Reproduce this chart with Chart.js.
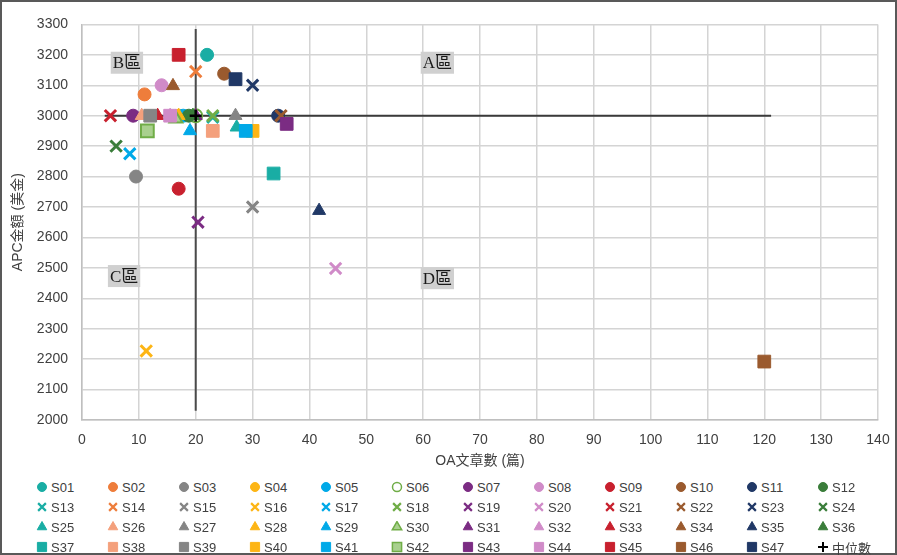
<!DOCTYPE html>
<html>
<head>
<meta charset="utf-8">
<script src="https://cdn.jsdelivr.net/npm/chart.js@4.4.1/dist/chart.umd.min.js"></script>
<style>
  html, body { margin: 0; padding: 0; background: #fff; }
  #frame { position: relative; width: 897px; height: 555px; box-sizing: border-box; border: 2px solid #595959; }
  #chartBox { position: absolute; left: 0; top: 0; width: 893px; height: 472px; }
  #legend {
    position: absolute; left: 34px; top: 475px;
    display: grid; grid-template-columns: repeat(12, 71px); grid-auto-rows: 20px;
    font: 13px "Liberation Sans", "Noto Sans CJK TC", sans-serif; color: #404040;
  }
  #legend .item { display: flex; align-items: center; white-space: nowrap; }
  #legend canvas { width: 12px; height: 12px; margin-right: 3px; }
</style>
</head>
<body>
<div id="frame">
  <div id="chartBox"><canvas id="chart"></canvas></div>
  <div id="legend"></div>
</div>
<script>
// values
const seriesNames = [
  "S01","S02","S03","S04","S05","S06","S07","S08","S09","S10","S11","S12",
  "S13","S14","S15","S16","S17","S18","S19","S20","S21","S22","S23","S24",
  "S25","S26","S27","S28","S29","S30","S31","S32","S33","S34","S35","S36",
  "S37","S38","S39","S40","S41","S42","S43","S44","S45","S46","S47"
];
const oaCounts = [
  22, 11, 9.5, 17, 17.8, 20, 9, 14, 17, 25, 34.5, 18.8,
  23, 20, 30, 11.3, 8.4, 23, 20.4, 44.6, 5, 35, 30, 6,
  27.2, 10.5, 27, 17, 19, 16.5, 20, 15.5, 13.3, 16, 41.7, 19.5,
  33.7, 23, 12, 30, 28.8, 11.5, 36, 15.5, 17, 120, 27
];
const apcAmounts = [
  3200, 3070, 2800, 3000, 3000, 3000, 3000, 3100, 2760, 3138, 3000, 3000,
  2995, 3145, 2700, 2227, 2875, 3000, 2650, 2498, 3000, 3000, 3100, 2900,
  2962, 3000, 3000, 3000, 2950, 2990, 3000, 3000, 3000, 3098, 2688, 3000,
  2810, 2950, 3000, 2950, 2950, 2950, 2973, 3000, 3200, 2192, 3120
];
const medianLabel = "中位數";
const medianPoint = { x: 20, y: 3000 };
const medianVSpan = [2030, 3285];   // vertical median line, APC range
const medianHSpan = [4, 121.2];     // horizontal median line, OA range
const xTicksMin = 0, xTicksMax = 140, xStep = 10;
const yTicksMin = 2000, yTicksMax = 3300, yStep = 100;
const quadrantNames = ["A區", "B區", "C區", "D區"];

// styles
const palette = ["#19ADA4","#EE7D3B","#858585","#FDB515","#00A9E8","#70AD47",
                 "#7B2C83","#D08BC8","#C8202E","#9A5A2E","#203866","#3A7D3A"];
const shapes = ["circle", "crossRot", "triangle", "rect"];
const salmon = "#F4A07C";
const textColor = "#404040";
const gridColor = "#D4D4D4";

function markerFor(i) {
  const shape = shapes[Math.floor(i / 12)];
  let color = palette[i % 12];
  if (shape !== "circle" && shape !== "crossRot" && i % 12 === 1) color = salmon;
  const open = (i % 12 === 5) && shape !== "crossRot";
  const m = { pointStyle: shape, color: color, fill: color, borderWidth: 1 };
  if (shape === "circle") m.radius = 6.5;
  if (shape === "crossRot") { m.radius = 8; m.borderWidth = 3; }
  if (shape === "triangle") m.radius = 7.5;
  if (shape === "rect") m.radius = 9;
  if (open) { m.fill = shape === "circle" ? "#ffffff" : "#A9D08E"; m.borderWidth = 2; }
  return m;
}

function buildDatasets() {
  const sets = [];
  seriesNames.forEach((name, i) => {
    const m = markerFor(i);
    sets.push({
      label: name,
      data: [{ x: oaCounts[i], y: apcAmounts[i] }],
      pointStyle: m.pointStyle,
      pointRadius: m.radius,
      pointBackgroundColor: m.fill,
      pointBorderColor: m.color,
      pointBorderWidth: m.borderWidth,
      order: 100 - i,
      _marker: m
    });
  });
  sets.push({
    label: "_vline",
    data: [{ x: medianPoint.x, y: medianVSpan[0] }, { x: medianPoint.x, y: medianVSpan[1] }],
    showLine: true, borderColor: "#4A4A4A", borderWidth: 2, pointRadius: 0, order: 300
  });
  sets.push({
    label: "_hline",
    data: [{ x: medianHSpan[0], y: medianPoint.y }, { x: medianHSpan[1], y: medianPoint.y }],
    showLine: true, borderColor: "#3A3A3A", borderWidth: 2, pointRadius: 0, order: 300
  });
  sets.push({
    label: medianLabel,
    data: [medianPoint],
    pointStyle: "cross", pointRadius: 6, pointBorderWidth: 2.5,
    pointBorderColor: "#000000", pointBackgroundColor: "#000000",
    order: 0,
    _marker: { pointStyle: "cross", color: "#000000", fill: "#000000", borderWidth: 2, radius: 5 }
  });
  return sets;
}

// gray-boxed quadrant captions anchored to data coordinates
const quadrantPlugin = {
  id: "quadrants",
  afterDraw(chart, args, opts) {
    const { ctx, scales } = chart;
    ctx.save();
    ctx.font = '17px "Liberation Serif", "Noto Sans CJK TC", serif';
    ctx.textBaseline = "middle";
    ctx.textAlign = "center";
    opts.items.forEach(it => {
      const px = scales.x.getPixelForValue(it.x);
      const py = scales.y.getPixelForValue(it.y);
      const w = ctx.measureText(it.text).width + 4;
      ctx.fillStyle = "#D0D0D0";
      ctx.fillRect(px - w / 2, py - 11, w, 22);
      ctx.fillStyle = "#1a1a1a";
      ctx.fillText(it.text, px, py + 1);
    });
    ctx.restore();
  }
};

function buildLegend(datasets) {
  const box = document.getElementById("legend");
  datasets.filter(d => d._marker).forEach(d => {
    const m = d._marker;
    const item = document.createElement("div");
    item.className = "item";
    const c = document.createElement("canvas");
    c.width = 12; c.height = 12;
    const cx = c.getContext("2d");
    cx.fillStyle = m.fill;
    cx.strokeStyle = m.color;
    let r = 4.5, bw = 1;
    if (m.pointStyle === "crossRot") { r = 5.5; bw = 2.2; }
    if (m.pointStyle === "triangle") r = 5.5;
    if (m.pointStyle === "rect") r = 6.5;
    if (m.pointStyle === "cross") { r = 5; bw = 2; }
    if (m.fill !== m.color && m.pointStyle !== "cross") bw = 1.5;
    cx.lineWidth = bw;
    Chart.helpers.drawPoint(cx, { pointStyle: m.pointStyle, radius: r, borderWidth: bw, rotation: 0 }, 6, 6);
    const t = document.createElement("span");
    t.textContent = d.label;
    item.appendChild(c);
    item.appendChild(t);
    box.appendChild(item);
  });
}

function init() {
  const canvas = document.getElementById("chart");
  const datasets = buildDatasets();
  const tickFont = { family: '"Liberation Sans", sans-serif', size: 14 };
  const titleFont = { family: '"Liberation Sans", "Noto Sans CJK TC", sans-serif', size: 14 };

  new Chart(canvas, {
    type: "scatter",
    data: { datasets },
    plugins: [quadrantPlugin],
    options: {
      responsive: true,
      maintainAspectRatio: false,
      animation: false,
      events: [],
      layout: { padding: { top: 18, right: 17, left: 0, bottom: 0 } },
      plugins: {
        legend: { display: false },
        tooltip: { enabled: false },
        quadrants: {
          items: [
            { text: quadrantNames[0], x: 62.5, y: 3174 },
            { text: quadrantNames[1], x: 7.9, y: 3174 },
            { text: quadrantNames[2], x: 7.4, y: 2473 },
            { text: quadrantNames[3], x: 62.5, y: 2466 }
          ]
        }
      },
      scales: {
        x: {
          type: "linear",
          min: xTicksMin, max: xTicksMax,
          ticks: { stepSize: xStep, color: textColor, font: tickFont, padding: 12 },
          grid: { color: gridColor, lineWidth: 1.5, drawTicks: false },
          border: { color: "#BFBFBF", width: 1.5 },
          title: { display: true, text: "OA文章數 (篇)", color: textColor, font: titleFont, padding: { top: 0, bottom: 4 } },
          afterFit(scale) { scale.height = 54; scale.paddingRight = 0; }
        },
        y: {
          min: yTicksMin, max: yTicksMax,
          ticks: { stepSize: yStep, color: textColor, font: tickFont, padding: 14, callback: v => String(v) },
          grid: { color: gridColor, lineWidth: 1.5, drawTicks: false },
          border: { color: "#BFBFBF", width: 1.5 },
          title: { display: true, text: "APC金額 (美金)", color: textColor, font: titleFont, padding: { top: 8, bottom: 0 } },
          afterFit(scale) { scale.width = 80; }
        }
      }
    }
  });

  buildLegend(datasets);
}

document.addEventListener("DOMContentLoaded", init);
</script>
</body>
</html>
